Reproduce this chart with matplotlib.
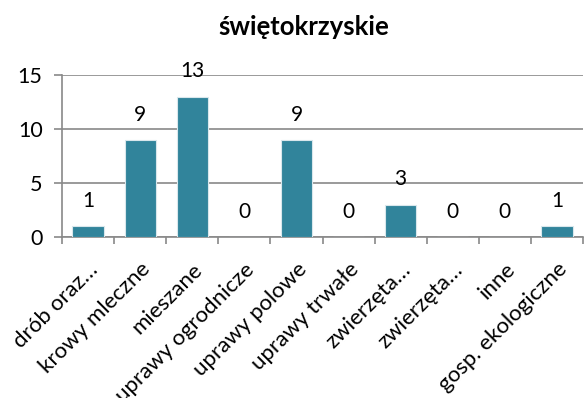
import matplotlib
matplotlib.use("Agg")
import matplotlib.pyplot as plt
import numpy as np

title = "świętokrzyskie"
categories = ["drób oraz…", "krowy mleczne", "mieszane", "uprawy ogrodnicze",
              "uprawy polowe", "uprawy trwałe", "zwierzęta…", "zwierzęta…",
              "inne", "gosp. ekologiczne"]
values = [1, 9, 13, 0, 9, 0, 3, 0, 0, 1]
y_ticks = [0, 5, 10, 15]

bar_color = "#31849B"
grid_color = "#898989"
plt.rcParams["font.family"] = ["Lato", "DejaVu Sans"]

fig = plt.figure(figsize=(5.84, 3.98), dpi=100)
ax = fig.add_axes([62 / 584, 1 - 237 / 398, (583 - 62) / 584, (237 - 75) / 398])

x = np.arange(len(categories))
bars = ax.bar(x, values, width=0.6, color=bar_color, edgecolor="#D9E7EC",
              linewidth=0.8, zorder=3)

for xi, v in zip(x, values):
    ax.annotate(str(v), (xi, v), xytext=(0, 11), textcoords="offset points",
                ha="center", va="bottom", fontsize=15, color="black")

ax.set_xlim(-0.5, len(categories) - 0.5)
ax.set_ylim(0, 15)
ax.set_yticks(y_ticks)
ax.set_yticklabels([str(t) for t in y_ticks], fontsize=15.5)
ax.yaxis.grid(True, color=grid_color, linewidth=1.2, zorder=0)
ax.set_axisbelow(True)

# category labels at bar centres, tick marks at category boundaries
ax.set_xticks(x)
ax.set_xticklabels(categories, rotation=45, ha="right", rotation_mode="anchor",
                   fontsize=16)
ax.tick_params(axis="x", length=0, pad=16)
ax.set_xticks(np.arange(len(categories) + 1) - 0.5, minor=True)
ax.tick_params(axis="x", which="minor", length=5, width=1.2, color=grid_color,
               direction="out")
ax.tick_params(axis="y", length=6, width=1.2, color=grid_color, pad=8)

for side in ["top", "right"]:
    ax.spines[side].set_visible(False)
for side in ["left", "bottom"]:
    ax.spines[side].set_color(grid_color)
    ax.spines[side].set_linewidth(1.2)

fig.text(304 / 584, 1 - 27 / 398, title, ha="center", va="center",
         fontsize=18.5, fontweight="bold")

fig.savefig("out.png", dpi=100)
